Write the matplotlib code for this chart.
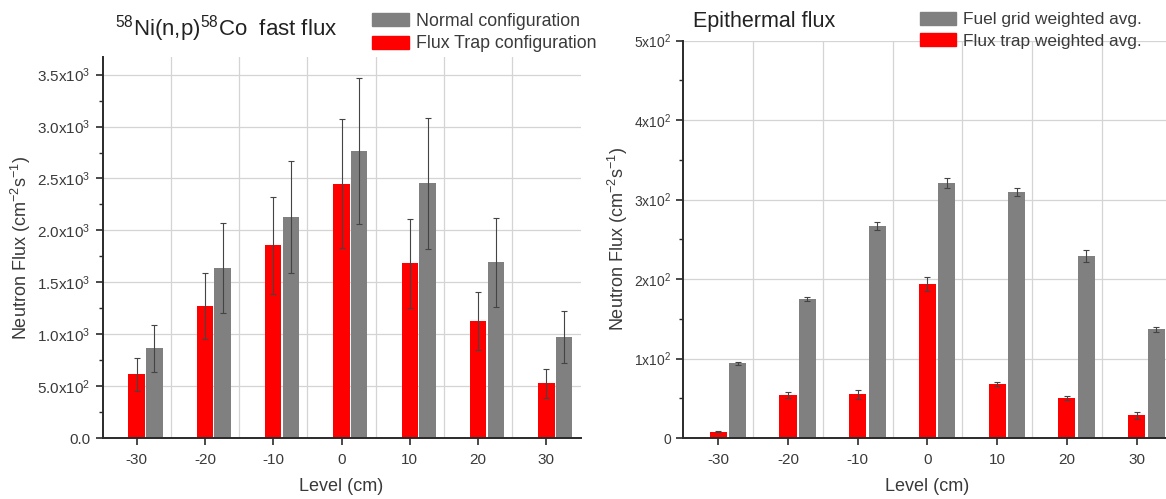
import matplotlib
matplotlib.use("Agg")
import matplotlib.pyplot as plt
import numpy as np
from matplotlib.patches import Patch
from matplotlib.ticker import FixedLocator, FuncFormatter, MultipleLocator

plt.rcParams["font.family"] = ["Liberation Sans", "DejaVu Sans"]
plt.rcParams["mathtext.fontset"] = "custom"
plt.rcParams["mathtext.rm"] = "Liberation Sans"
plt.rcParams["mathtext.it"] = "Liberation Sans:italic"
plt.rcParams["mathtext.default"] = "regular"
plt.rcParams["axes.unicode_minus"] = False

levels = [-30, -20, -10, 0, 10, 20, 30]

# left panel: 58Ni(n,p)58Co fast flux
trap_fast = [612, 1269, 1856, 2449, 1683, 1125, 526]
trap_fast_err = [160, 320, 470, 620, 430, 280, 140]
normal_fast = [865, 1638, 2125, 2766, 2452, 1692, 974]
normal_fast_err = [225, 430, 540, 700, 630, 430, 250]

# right panel: epithermal flux
trap_epi = [8, 54, 55, 194, 68, 50, 28.5]
trap_epi_err = [1, 3.5, 6, 9, 2, 2.5, 4.5]
fuel_epi = [94, 175, 267, 321, 309, 229, 137]
fuel_epi_err = [2, 3, 5, 6, 5, 7, 3]

RED = "#ff0000"
GREY = "#808080"
DARK = "#2a2a2a"
TXT = "#3a3a3a"
W = 1166
H = 499


def sci_fmt(dec):
    def f(v, pos):
        if v == 0:
            return "0.0" if dec else "0"
        exp = int(np.floor(np.log10(abs(v))))
        mant = v / 10 ** exp
        m = f"{mant:.1f}" if dec else f"{mant:.0f}"
        return m + "x10$^{" + str(exp) + "}$"
    return f


def style_axes(ax, ymax, ymajor, yminor, dec, ysize):
    x = np.array(levels, dtype=float)
    ax.set_xlim(-35, 35)
    ax.set_ylim(0, ymax)
    ax.xaxis.set_major_locator(FixedLocator(levels))
    ax.xaxis.set_minor_locator(FixedLocator([-25, -15, -5, 5, 15, 25]))
    ax.yaxis.set_major_locator(MultipleLocator(ymajor))
    ax.yaxis.set_minor_locator(MultipleLocator(yminor))
    ax.yaxis.set_major_formatter(FuncFormatter(sci_fmt(dec)))
    ax.tick_params(axis="x", which="minor", length=0)
    ax.tick_params(axis="x", which="major", length=5, width=1.2, color=DARK,
                   labelsize=11, labelcolor=TXT, pad=6)
    ax.tick_params(axis="y", which="major", length=5, width=1.2, color=DARK,
                   labelsize=ysize, labelcolor=TXT)
    ax.tick_params(axis="y", which="minor", length=3, width=1.0, color=DARK)
    for s in ["top", "right"]:
        ax.spines[s].set_visible(False)
    for s in ["left", "bottom"]:
        ax.spines[s].set_linewidth(1.4)
        ax.spines[s].set_color(DARK)
    ax.grid(True, axis="y", which="major", color="#d4d4d4", lw=0.9)
    ax.grid(True, axis="x", which="minor", color="#d4d4d4", lw=0.9)
    ax.set_axisbelow(True)
    ax.set_xlabel("Level (cm)", fontsize=13, color=TXT)
    ax.set_ylabel("Neutron Flux (cm$^{-2}$s$^{-1}$)", fontsize=13, color=TXT)
    return x


fig = plt.figure(figsize=(W / 100, H / 100), dpi=100)

ekw = dict(ecolor="#444444", elinewidth=0.8, capsize=2.5, capthick=0.8)

# left
ax1 = fig.add_axes([102.5 / W, 1 - 438 / H, 478 / W, 381 / H])
x = style_axes(ax1, 3670, 500, 250, True, 11)
ax1.bar(x, trap_fast, width=2.4, color=RED, yerr=trap_fast_err, error_kw=ekw)
ax1.bar(x + 2.6, normal_fast, width=2.4, color=GREY, yerr=normal_fast_err, error_kw=ekw)
ax1.xaxis.set_label_coords(0.5, -0.105)
ax1.yaxis.set_label_coords(-0.145, 0.5)
fig.text(115 / W, 1 - 35 / H, "$^{58}$Ni(n,p)$^{58}$Co  fast flux", fontsize=16,
         color="#222222", va="baseline")
fig.legend(handles=[Patch(color=GREY, label="Normal configuration"),
                    Patch(color=RED, label="Flux Trap configuration")],
           loc="upper left", bbox_to_anchor=(372 / W, 1 - 13 / H), frameon=False,
           fontsize=12.8, handlelength=2.1, handleheight=0.75, handletextpad=0.4,
           labelspacing=0.3, borderpad=0, borderaxespad=0, labelcolor=TXT)

# right
ax2 = fig.add_axes([683.4 / W, 1 - 438 / H, 488 / W, 397.3 / H])
x = style_axes(ax2, 500, 100, 50, False, 10)
ax2.bar(x, trap_epi, width=2.45, color=RED, yerr=trap_epi_err, error_kw=ekw)
ax2.bar(x + 2.8, fuel_epi, width=2.45, color=GREY, yerr=fuel_epi_err, error_kw=ekw)
ax2.xaxis.set_label_coords(0.5, -0.1)
ax2.yaxis.set_label_coords(-0.109, 0.5)
fig.text(693 / W, 1 - 27 / H, "Epithermal flux", fontsize=15.5, color="#222222",
         va="baseline")
fig.legend(handles=[Patch(color=GREY, label="Fuel grid weighted avg."),
                    Patch(color=RED, label="Flux trap weighted avg.")],
           loc="upper left", bbox_to_anchor=(920 / W, 1 - 12 / H), frameon=False,
           fontsize=12.4, handlelength=2.1, handleheight=0.75, handletextpad=0.4,
           labelspacing=0.35, borderpad=0, borderaxespad=0, labelcolor=TXT)

fig.savefig("out.png", dpi=100)
